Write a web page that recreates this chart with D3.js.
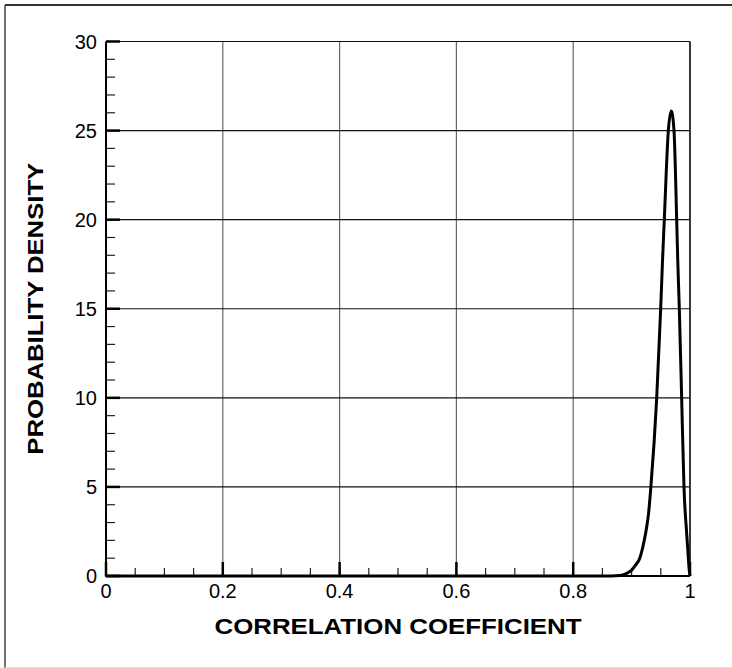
<!DOCTYPE html>
<html>
<head>
<meta charset="utf-8">
<script src="https://cdn.jsdelivr.net/npm/d3@7"></script>
<style>
  body { margin: 0; background: #fff; }
  svg { display: block; font-family: "Liberation Sans", Arial, Helvetica, sans-serif; }
</style>
</head>
<body>
<script>
// density curve, points
var rValues = [0, 0.85, 0.88, 0.89, 0.9, 0.907, 0.914, 0.919, 0.924, 0.929, 0.933, 0.943, 0.9498, 0.953, 0.956,
               0.9629, 0.968, 0.9726, 0.9772, 0.979, 0.9817, 0.9857, 0.9897, 0.9943, 0.9966, 0.9985, 1.0];
var densityValues = [0, 0, 0.03, 0.12, 0.33, 0.62, 1.0, 1.6, 2.4, 3.5, 5.0, 10.0, 15.0, 17.75, 20.0,
                     25.0, 26.1, 25.0, 20.0, 17.75, 15.0, 10.0, 5.0, 2.4, 1.3, 0.4, 0];

var xTicks = [0, 0.2, 0.4, 0.6, 0.8, 1];
var xTickLabels = ["0", "0.2", "0.4", "0.6", "0.8", "1"];
var yTicks = [0, 5, 10, 15, 20, 25, 30];
var xMinor = d3.range(0, 1.0001, 0.05);
var yMinor = d3.range(0, 30.001, 1);

var width = 732, height = 668;
var margin = {left: 106, right: 42, top: 41.5, bottom: 92};

var svg = d3.select("body").append("svg")
    .attr("width", width)
    .attr("height", height);

// outer frame
svg.append("line").attr("x1", 5).attr("y1", 5).attr("x2", 732).attr("y2", 5)
    .attr("stroke", "#333").attr("stroke-width", 2);
svg.append("line").attr("x1", 5).attr("y1", 5).attr("x2", 5).attr("y2", 668)
    .attr("stroke", "#444").attr("stroke-width", 1.5);
svg.append("line").attr("x1", 5).attr("y1", 667.5).attr("x2", 732).attr("y2", 667.5)
    .attr("stroke", "#ddd").attr("stroke-width", 1);

var x = d3.scaleLinear().domain([0, 1]).range([margin.left, width - margin.right]);
var y = d3.scaleLinear().domain([0, 30]).range([height - margin.bottom, margin.top]);

var g = svg.append("g");

// grid
g.selectAll(".vgrid").data(xTicks.slice(1, -1)).enter().append("line")
    .attr("x1", d => x(d)).attr("x2", d => x(d))
    .attr("y1", y(0)).attr("y2", y(30))
    .attr("stroke", "#666").attr("stroke-width", 1.2);
g.selectAll(".hgrid").data(yTicks.slice(1)).enter().append("line")
    .attr("x1", x(0)).attr("x2", x(1))
    .attr("y1", d => y(d)).attr("y2", d => y(d))
    .attr("stroke", "#111").attr("stroke-width", 1.1);

// right border
g.append("line").attr("x1", x(1)).attr("x2", x(1)).attr("y1", y(0)).attr("y2", y(30))
    .attr("stroke", "#222").attr("stroke-width", 1.8);

// minor ticks
g.selectAll(".xminor").data(xMinor).enter().append("line")
    .attr("x1", d => x(d)).attr("x2", d => x(d))
    .attr("y1", y(0)).attr("y2", y(0) - 8)
    .attr("stroke", "#222").attr("stroke-width", 1.2);
g.selectAll(".yminor").data(yMinor).enter().append("line")
    .attr("x1", x(0)).attr("x2", x(0) + 9)
    .attr("y1", d => y(d)).attr("y2", d => y(d))
    .attr("stroke", "#222").attr("stroke-width", 1.2);

// major ticks
g.selectAll(".xmajor").data(xTicks).enter().append("line")
    .attr("x1", d => x(d)).attr("x2", d => x(d))
    .attr("y1", y(0)).attr("y2", y(0) - 14)
    .attr("stroke", "#000").attr("stroke-width", 2.5);
g.selectAll(".ymajor").data(yTicks).enter().append("line")
    .attr("x1", x(0)).attr("x2", x(0) + 14)
    .attr("y1", d => y(d)).attr("y2", d => y(d))
    .attr("stroke", "#000").attr("stroke-width", 2.5);

// axes lines
g.append("line").attr("x1", x(0)).attr("x2", x(1)).attr("y1", y(0)).attr("y2", y(0))
    .attr("stroke", "#000").attr("stroke-width", 2.2);
g.append("line").attr("x1", x(0)).attr("x2", x(0)).attr("y1", y(0) + 1).attr("y2", y(30))
    .attr("stroke", "#000").attr("stroke-width", 2);

// tick labels
g.selectAll(".xlab").data(xTicks).enter().append("text")
    .attr("x", d => x(d)).attr("y", y(0) + 22)
    .attr("text-anchor", "middle")
    .style("font-size", "20px")
    .text((d, i) => xTickLabels[i]);
g.selectAll(".ylab").data(yTicks).enter().append("text")
    .attr("x", x(0) - 9).attr("y", d => y(d) + 7)
    .attr("text-anchor", "end")
    .style("font-size", "20px")
    .text(d => d);

// axis titles
svg.append("text")
    .attr("x", (x(0) + x(1)) / 2).attr("y", 634)
    .attr("text-anchor", "middle")
    .attr("textLength", 367).attr("lengthAdjust", "spacingAndGlyphs")
    .style("font-size", "22px").style("font-weight", "bold")
    .text("CORRELATION COEFFICIENT");
svg.append("text")
    .attr("transform", "translate(43," + ((y(0) + y(30)) / 2) + ") rotate(-90)")
    .attr("text-anchor", "middle")
    .attr("textLength", 292).attr("lengthAdjust", "spacingAndGlyphs")
    .style("font-size", "22px").style("font-weight", "bold")
    .text("PROBABILITY DENSITY");

// curve
var points = rValues.map((r, i) => [r, densityValues[i]]);
var line = d3.line()
    .x(d => x(d[0]))
    .y(d => y(d[1]))
    .curve(d3.curveMonotoneX);

g.append("path")
    .datum(points)
    .attr("fill", "none")
    .attr("stroke", "#000")
    .attr("stroke-width", 3)
    .attr("d", line);
</script>
</body>
</html>
